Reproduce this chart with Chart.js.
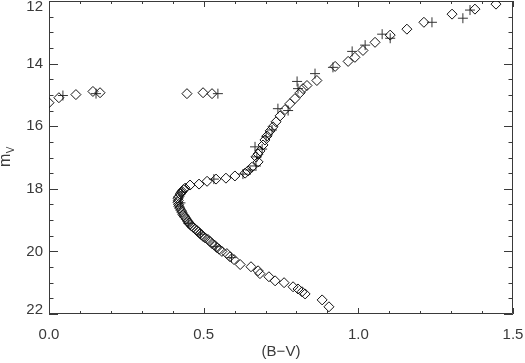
<!DOCTYPE html>
<html><head><meta charset="utf-8">
<script src="https://cdn.jsdelivr.net/npm/chart.js@4/dist/chart.umd.min.js"></script>
<style>html,body{margin:0;padding:0;background:#fff}#wrap{width:525px;height:363px}</style>
</head><body><div id="wrap"><canvas id="c" width="525" height="363"></canvas></div>
<script>
// ---- data: (B-V) colour and V magnitude ----
const diamondBV = [
  0.000,0.032,0.087,0.142,0.165,0.446,0.498,0.527,
  1.445,1.377,1.303,1.212,1.157,1.103,1.054,1.015,0.989,0.967,0.925,0.866,0.834,0.821,0.812,0.795,0.779,0.763,0.747,0.734,0.724,0.715,0.705,0.698,0.692,0.682,0.676,0.669,0.676,0.656,0.643,0.634,
  0.601,0.572,0.540,0.511,0.485,0.456,0.440,0.430,0.424,0.417,0.417,0.420,0.427,0.433,0.440,0.449,0.456,0.466,0.478,0.488,0.498,0.514,0.527,0.543,0.559,0.575,0.585,0.598,0.618,0.653,0.676,0.682,0.711,0.731,0.760,0.789,0.805,0.818,0.828,0.883,0.905,
  0.420,0.418,0.419,0.423,0.430,0.436,0.444,0.452,0.461,0.472,0.483,0.493,0.505,0.520,0.535,0.550,0.428,0.435
];
const diamondV = [
  15.25,15.09,14.99,14.89,14.93,14.96,14.93,14.96,
  12.10,12.26,12.42,12.68,12.90,13.09,13.32,13.58,13.80,13.93,14.09,14.54,14.70,14.80,14.93,15.12,15.28,15.47,15.67,15.86,16.02,16.15,16.31,16.44,16.60,16.79,16.89,16.98,17.14,17.31,17.43,17.50,
  17.59,17.66,17.69,17.76,17.85,17.88,17.98,18.08,18.17,18.30,18.43,18.56,18.69,18.82,18.91,19.04,19.14,19.23,19.33,19.43,19.52,19.62,19.75,19.88,20.00,20.07,20.17,20.26,20.42,20.49,20.62,20.71,20.81,20.94,21.00,21.13,21.20,21.29,21.36,21.55,21.77,
  18.25,18.37,18.50,18.62,18.75,18.86,18.97,19.09,19.19,19.28,19.38,19.47,19.57,19.68,19.80,19.93,18.12,18.03
];
const plusBV = [
  0.045,0.152,0.546,
  1.361,1.338,1.238,1.103,1.077,1.022,0.980,0.918,0.860,0.805,0.802,0.773,0.740,0.721,0.702,0.689,0.666,0.672,0.669,0.650,0.627,0.533,
  0.425,0.450,0.490,0.540,0.590,0.430
];
const plusV = [
  15.02,14.96,14.96,
  12.29,12.55,12.68,13.19,13.06,13.41,13.61,14.12,14.32,14.80,14.57,15.50,15.44,16.12,16.34,16.73,16.66,16.98,17.27,17.40,17.53,17.69,
  18.45,19.10,19.45,19.85,20.20,18.10
];
const xTickValues = [0.0, 0.5, 1.0, 1.5];
const yTickValues = [12, 14, 16, 18, 20, 22];
const xTitle = '(B\u2212V)';
const yTitleMain = 'm';
const yTitleSub = 'V';

const FONT = '"Liberation Sans", Arial, sans-serif';
const AX = '#3a3a3a';

const toPts = (xs, ys) => xs.map((x, i) => ({x: x, y: ys[i]}));

const framePlugin = {
  id: 'frame',
  beforeDatasetsDraw(chart) {
    const {ctx, chartArea: a, scales: {x, y}} = chart;
    ctx.save();
    ctx.strokeStyle = AX;
    ctx.lineWidth = 1;
    ctx.beginPath();
    ctx.rect(Math.round(a.left) + 0.5, Math.round(a.top) + 0.5, Math.round(a.right - a.left) - 1, Math.round(a.bottom - a.top) - 1);
    ctx.stroke();
    ctx.beginPath();
    for (let k = 0; k <= 15; k++) {
      const v = k / 10;
      const px = Math.round(x.getPixelForValue(v)) + 0.5;
      const len = (k % 5 === 0) ? 6 : 3;
      ctx.moveTo(px, a.bottom); ctx.lineTo(px, a.bottom - len);
      ctx.moveTo(px, a.top); ctx.lineTo(px, a.top + len);
    }
    for (let k = 0; k <= 20; k++) {
      const v = 12 + k * 0.5;
      const py = Math.round(y.getPixelForValue(v)) + 0.5;
      const len = (k % 4 === 0) ? 9 : 4.5;
      ctx.moveTo(a.left, py); ctx.lineTo(a.left + len, py);
      ctx.moveTo(a.right, py); ctx.lineTo(a.right - len, py);
    }
    ctx.stroke();
    ctx.restore();
  },
  afterDraw(chart) {
    const {ctx} = chart;
    ctx.save();
    ctx.fillStyle = AX;
    ctx.translate(10, 167);
    ctx.rotate(-Math.PI / 2);
    ctx.textBaseline = 'alphabetic';
    ctx.font = '16px ' + FONT;
    ctx.fillText(yTitleMain, 0, 0);
    const w = ctx.measureText(yTitleMain).width;
    ctx.font = '10px ' + FONT;
    ctx.fillText(yTitleSub, w + 0.5, 4);
    ctx.restore();
  }
};

new Chart(document.getElementById('c'), {
  type: 'scatter',
  data: {
    datasets: [
      {
        label: 'diamonds',
        data: toPts(diamondBV, diamondV),
        pointStyle: 'rectRot',
        pointRadius: 5,
        borderWidth: 1,
        borderColor: '#111',
        backgroundColor: 'rgba(0,0,0,0)',
        clip: 0
      },
      {
        label: 'plus',
        data: toPts(plusBV, plusV),
        pointStyle: 'cross',
        pointRadius: 5,
        borderWidth: 1,
        borderColor: '#333',
        backgroundColor: 'rgba(0,0,0,0)',
        clip: 0
      }
    ]
  },
  options: {
    responsive: false,
    animation: false,
    devicePixelRatio: 1,
    layout: {autoPadding: false, padding: {left: 0, right: 12, top: 1, bottom: 0}},
    plugins: {legend: {display: false}, tooltip: {enabled: false}},
    events: [],
    scales: {
      x: {
        type: 'linear', min: 0, max: 1.5,
        afterBuildTicks: s => { s.ticks = xTickValues.map(v => ({value: v})); },
        afterFit: s => { s.height = 49; s.paddingLeft = 0; s.paddingRight = 0; },
        ticks: {
          callback: v => v.toFixed(1),
          font: {family: FONT, size: 15},
          color: AX, padding: 12, maxRotation: 0, autoSkip: false
        },
        grid: {display: true, drawOnChartArea: false, drawTicks: false},
        border: {display: false},
        title: {display: true, text: xTitle, font: {family: FONT, size: 15}, color: AX, padding: {top: 0, bottom: 2}}
      },
      y: {
        type: 'linear', min: 12, max: 22, reverse: true,
        afterBuildTicks: s => { s.ticks = yTickValues.map(v => ({value: v})); },
        afterFit: s => { s.width = 49; s.paddingTop = 0; s.paddingBottom = 0; },
        ticks: {
          callback: v => v === 12 ? ['', String(v)] : (v === 22 ? [String(v), ''] : String(v)),
          font: c => (c.tick && c.tick.value === 12) ? {family: FONT, size: 15, lineHeight: 0.8}
                   : (c.tick && c.tick.value === 22) ? {family: FONT, size: 15, lineHeight: 0.55}
                   : {family: FONT, size: 15},
          color: AX, padding: 6, autoSkip: false
        },
        grid: {display: true, drawOnChartArea: false, drawTicks: false},
        border: {display: false}
      }
    }
  },
  plugins: [framePlugin]
});
</script>
</body></html>
